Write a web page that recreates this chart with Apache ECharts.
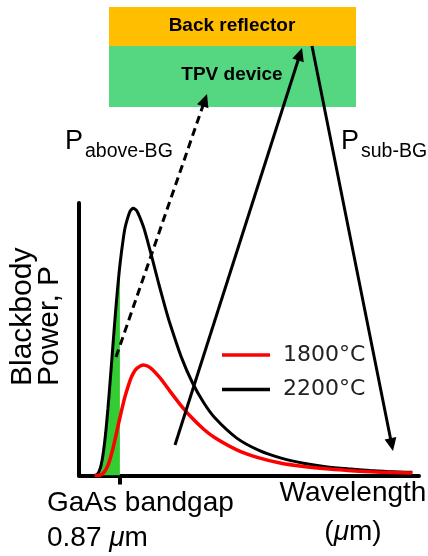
<!DOCTYPE html>
<html><head><meta charset="utf-8">
<script src="https://cdn.jsdelivr.net/npm/echarts@6/dist/echarts.min.js"></script>
<style>html,body{margin:0;padding:0;background:#fff}#c{width:428px;height:556px}</style>
</head><body><div id="c"></div>
<script>
// wavelength in micrometres
const wavelength = [0.3,0.35,0.4,0.45,0.5,0.55,0.6,0.65,0.7,0.75,0.8,0.87,0.95,1.0,1.1,1.17,1.25,1.4,1.5,1.6,1.75,1.9,2.0,2.25,2.5,2.75,3.0,3.5,4.0,4.5,5.0,5.5,6.0,6.5,7.0,7.45];
// blackbody power (arbitrary units)
const power2200 = [0.05,0.36,1.5,4.1,8.9,15.9,24.9,35.1,45.9,56.6,66.6,78.7,89.1,93.7,99.0,100,99.1,93.1,87.3,81.1,71.4,62.3,56.7,44.4,34.8,27.4,21.7,14.0,9.4,6.5,4.6,3.3,2.5,1.9,1.4,1.2];
const power1800 = [0,0.02,0.09,0.34,0.94,2.1,3.8,6.2,9.2,12.7,16.4,21.6,27.3,30.4,35.6,38.2,40.1,41.4,40.9,39.7,37.0,33.8,31.5,26.1,21.4,17.4,14.2,9.6,6.6,4.6,3.4,2.5,1.9,1.4,1.1,0.9];
const bandgap = 0.87;
const seriesNames = ['1800°C','2200°C'];
const boxLabels = ['Back reflector','TPV device'];

const chart = echarts.init(document.getElementById('c'), null, {renderer:'canvas'});
const pts = ys => wavelength.map((w,i)=>[w, ys[i]]);
const greenPts = pts(power2200).filter(p => p[0] <= bandgap);

function arrow(x1,y1,x2,y2,dashed){
  const dx=x2-x1, dy=y2-y1, L=Math.hypot(dx,dy), ux=dx/L, uy=dy/L;
  const h=13, w=6;
  const bx=x2-ux*h, by=y2-uy*h, px=-uy, py=ux;
  return [
    {type:'line', z:50, shape:{x1:x1,y1:y1,x2:bx+ux*2,y2:by+uy*2},
     style:{stroke:'#000', lineWidth:3, lineDash: dashed?[8,5]:null}},
    {type:'polygon', z:51, shape:{points:[[x2,y2],[bx+px*w,by+py*w],[bx-px*w,by-py*w]]},
     style:{fill:'#000'}}
  ];
}

const FONT='Liberation Sans';
const graphic = [
  {type:'rect', z:10, shape:{x:109,y:7,width:247,height:39}, style:{fill:'#FFBF00'}},
  {type:'rect', z:10, shape:{x:109,y:46,width:247,height:61}, style:{fill:'#55D681'}},
  {type:'text', z:11, x:232, y:26, style:{text:boxLabels[0], fontFamily:FONT, fontWeight:'bold', fontSize:19, fill:'#000', align:'center', verticalAlign:'middle'}},
  {type:'text', z:11, x:232, y:75, style:{text:boxLabels[1], fontFamily:FONT, fontWeight:'bold', fontSize:19, fill:'#000', align:'center', verticalAlign:'middle'}},
  ...arrow(116,357,207,94,true),
  ...arrow(175,445,302,48,false),
  ...arrow(312,46,393,451,false),
  {type:'text', z:11, x:65, y:142, style:{text:'P', fontFamily:FONT, fontSize:27, fill:'#000', align:'left', verticalAlign:'middle'}},
  {type:'text', z:11, x:85, y:152, style:{text:'above-BG', fontFamily:FONT, fontSize:19.5, fill:'#000', align:'left', verticalAlign:'middle'}},
  {type:'text', z:11, x:341, y:142, style:{text:'P', fontFamily:FONT, fontSize:27, fill:'#000', align:'left', verticalAlign:'middle'}},
  {type:'text', z:11, x:361, y:152, style:{text:'sub-BG', fontFamily:FONT, fontSize:19.5, fill:'#000', align:'left', verticalAlign:'middle'}},
  {type:'text', z:11, x:23, y:386, rotation:Math.PI/2, style:{text:'Blackbody', fontFamily:FONT, fontSize:30, fill:'#000', align:'left', verticalAlign:'middle'}},
  {type:'text', z:11, x:50, y:386, rotation:Math.PI/2, style:{text:'Power, P', fontFamily:FONT, fontSize:30, fill:'#000', align:'left', verticalAlign:'middle'}},
  {type:'text', z:11, x:47, y:503, style:{text:'GaAs bandgap', fontFamily:FONT, fontSize:28, fill:'#000', align:'left', verticalAlign:'middle'}},
  {type:'text', z:11, x:47, y:538, style:{text:'0.87 {i|μ}m', fontFamily:FONT, fontSize:28, fill:'#000', align:'left', verticalAlign:'middle', rich:{i:{fontStyle:'italic', fontFamily:FONT, fontSize:28, fill:'#000'}}}},
  {type:'text', z:11, x:353, y:493, style:{text:'Wavelength', fontFamily:FONT, fontSize:28, fill:'#000', align:'center', verticalAlign:'middle'}},
  {type:'text', z:11, x:353, y:532, style:{text:'({i|μ}m)', fontFamily:FONT, fontSize:28, fill:'#000', align:'center', verticalAlign:'middle', rich:{i:{fontStyle:'italic', fontFamily:FONT, fontSize:28, fill:'#000'}}}}
];

chart.setOption({
  animation:false,
  backgroundColor:'#fff',
  grid:{left:79, right:9, top:203, bottom:80.5, containLabel:false},
  xAxis:{type:'value', min:-0.05, max:7.6,
    axisLine:{show:true, onZero:false, lineStyle:{color:'#000', width:4}},
    axisTick:{show:true, customValues:[bandgap], length:9, lineStyle:{color:'#000', width:4}},
    axisLabel:{show:false}, splitLine:{show:false}},
  yAxis:{type:'value', min:0, max:102,
    axisLine:{show:true, onZero:false, lineStyle:{color:'#000', width:4}},
    axisTick:{show:false}, axisLabel:{show:false}, splitLine:{show:false}},
  legend:{data:seriesNames, orient:'vertical', left:217, top:339, icon:'rect',
    itemWidth:48, itemHeight:3.5, itemGap:12.5, selectedMode:false,
    textStyle:{fontFamily:'DejaVu Sans', fontSize:22, color:'#222', lineHeight:22, padding:[0,0,0,8]}},
  series:[
    {type:'line', name:'aboveBG', data:greenPts, smooth:0.25, showSymbol:false, silent:true, z:1,
     lineStyle:{width:0}, areaStyle:{color:'#33CC33', opacity:1}},
    {type:'line', name:seriesNames[1], data:pts(power2200), smooth:0.25, showSymbol:false, z:3,
     color:'#000', lineStyle:{color:'#000', width:3}},
    {type:'line', name:seriesNames[0], data:pts(power1800), smooth:0.25, showSymbol:false, z:4,
     color:'#FF0000', lineStyle:{color:'#FF0000', width:3.5}}
  ],
  graphic: graphic
});
</script></body></html>
